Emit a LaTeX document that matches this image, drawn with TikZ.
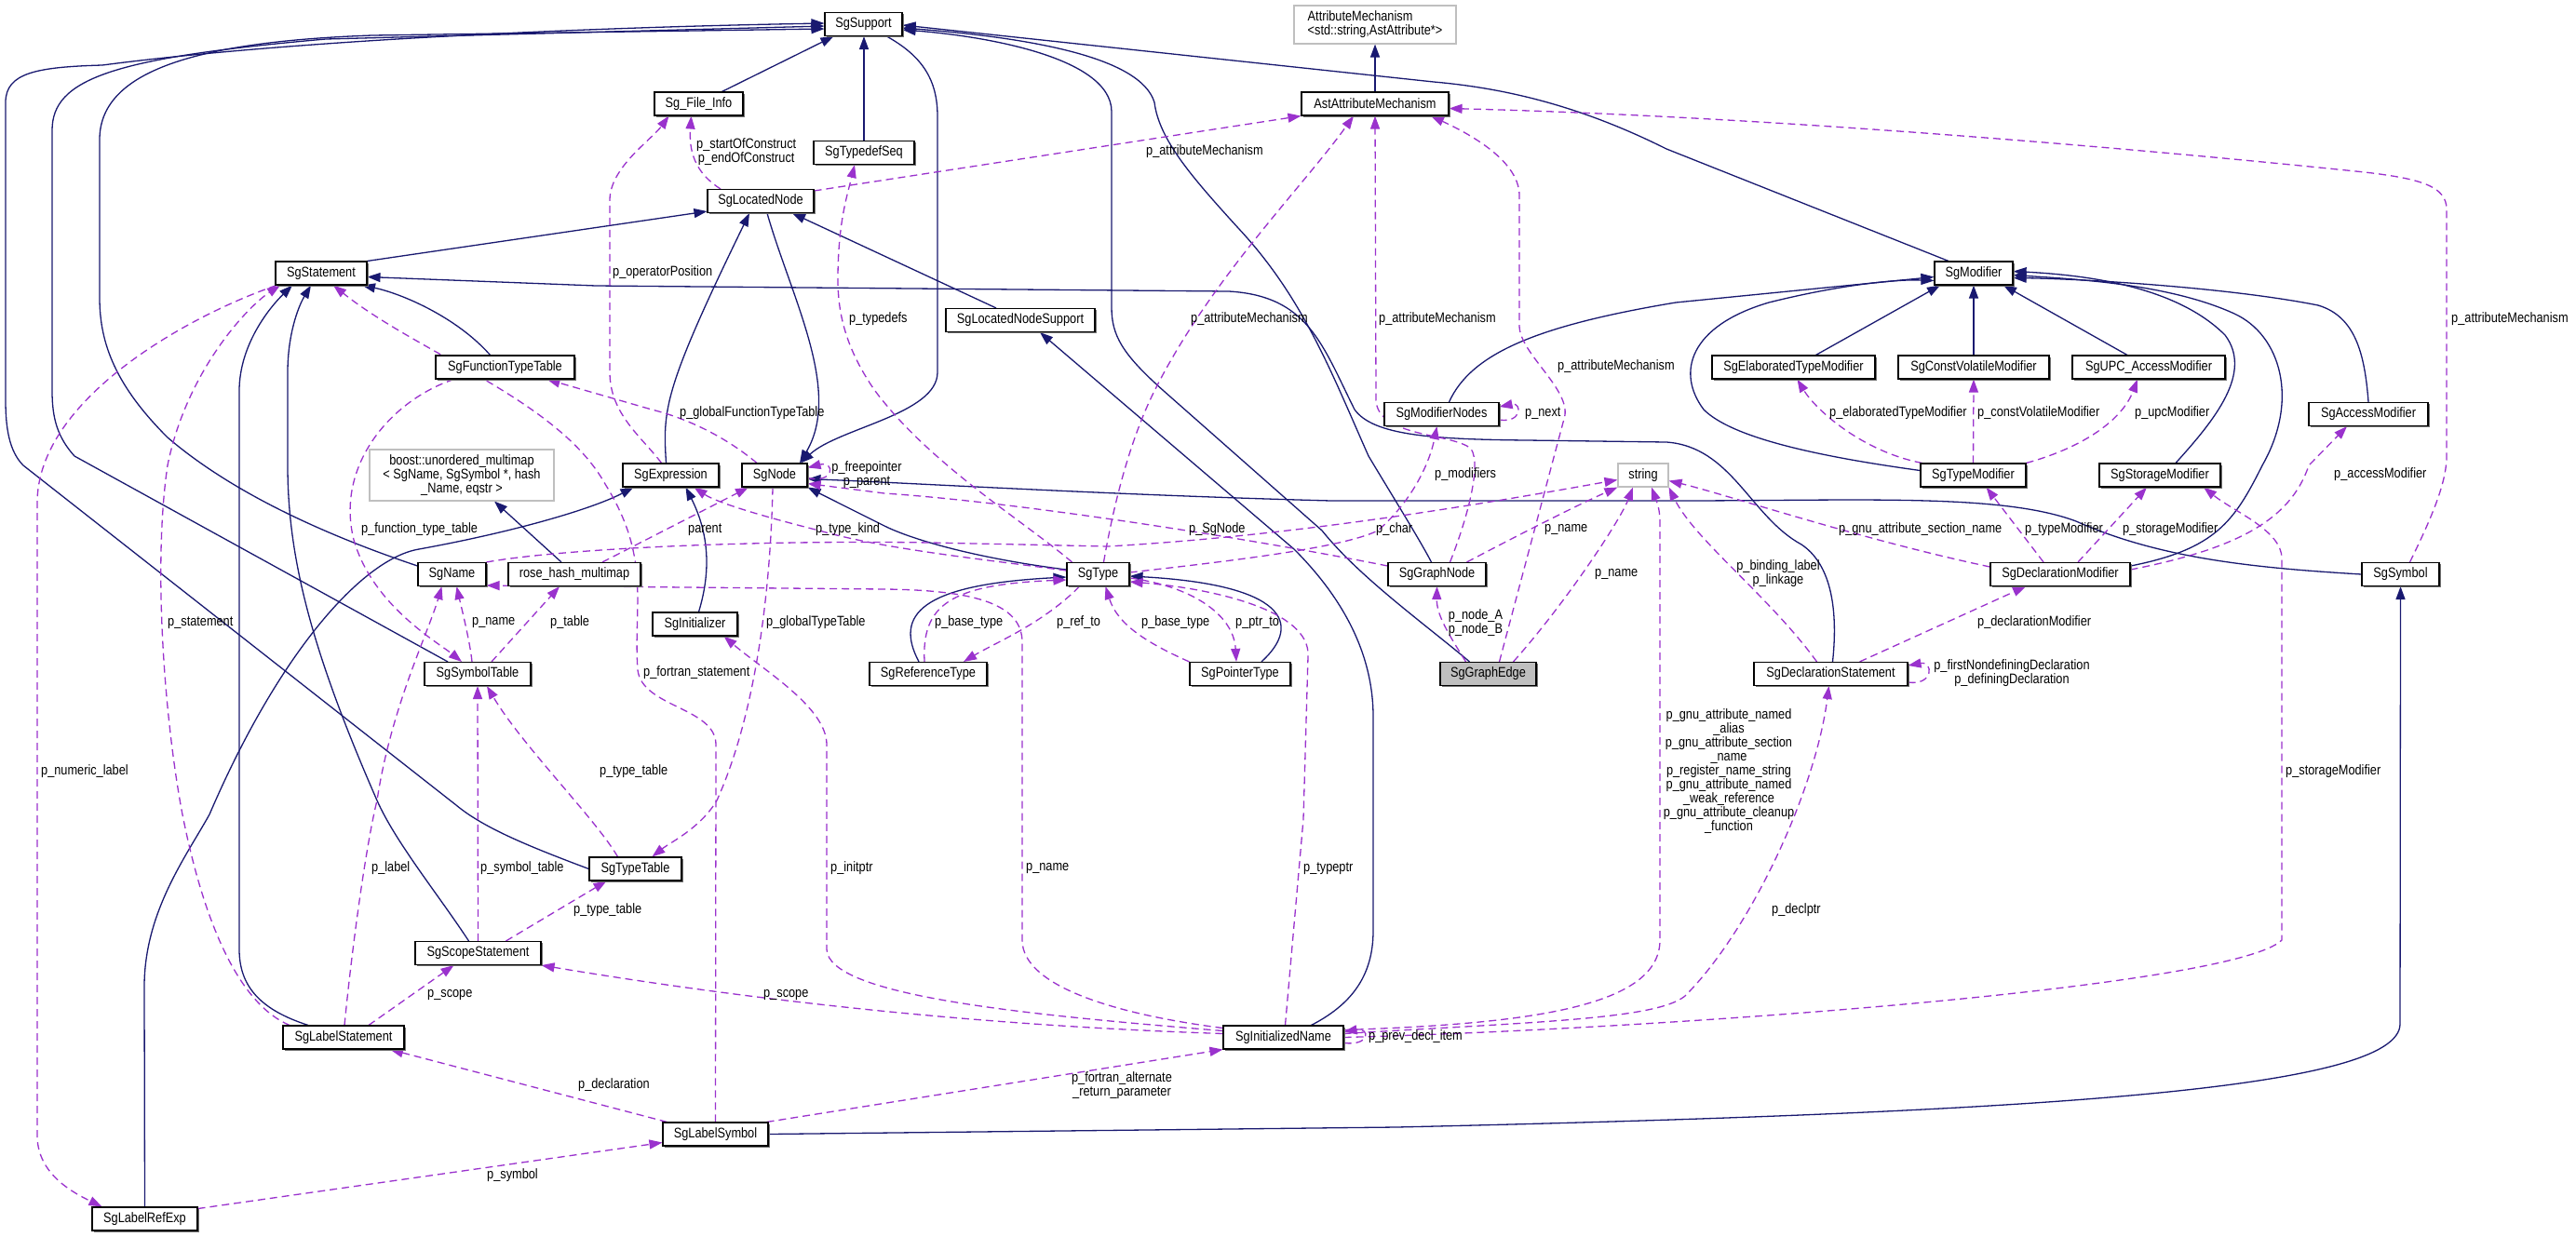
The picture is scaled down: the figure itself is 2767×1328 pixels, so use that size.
\documentclass[tikz,border=0pt]{standalone}
\usepackage{fontspec}
\newfontfamily\dxfam{Liberation Sans}[FakeStretch=0.85]
\newcommand\dxf{\dxfam\fontsize{15}{15}\selectfont}
\usetikzlibrary{arrows.meta,shadows}
\definecolor{navy}{HTML}{191970}
\definecolor{orch}{HTML}{9A32CD}
\definecolor{lgray}{HTML}{BFBFBF}
\pgfdeclarelayer{back}
\pgfdeclarelayer{bg}
\pgfsetlayers{back,bg,main}
\tikzset{
  cls/.style={draw=black, line width=1.1pt, fill=white, minimum height=25pt, inner sep=0pt, font=\dxf, align=center,
     drop shadow={shadow xshift=1.5pt, shadow yshift=-1.5pt, fill=black!55, opacity=1}},
  ext/.style={draw=lgray, line width=1.1pt, fill=white, inner sep=0pt, font=\dxf, align=center},
  inh/.style={draw=navy, line width=1.3pt, -{Triangle[length=14pt,width=10pt]}},
  use/.style={draw=orch, line width=1.3pt, dash pattern=on 8pt off 5pt, -{Triangle[length=14pt,width=10pt]}},
  lab/.style={inner sep=0pt, font=\dxf, align=center, text=black},
}
\begin{document}
\begin{tikzpicture}[x=1pt,y=-1pt]
\useasboundingbox (0,0) rectangle (2767,1328);
\begin{pgfonlayer}{back}
\fill[white] (0,0) rectangle (2767,1328);
\end{pgfonlayer}

% ---------------- nodes ----------------
\node[cls, minimum width=83pt] (sup) at (927.5,26) {SgSupport};
\node[ext, minimum width=174pt, minimum height=41pt, align=left] (am) at (1477,26.5) {AttributeMechanism\\<std::string,AstAttribute*>};
\node[cls, minimum width=158pt] (aam) at (1477,111.5) {AstAttributeMechanism};
\node[cls, minimum width=95pt] (fi) at (750.5,111.5) {Sg\_File\_Info};
\node[cls, minimum width=108pt] (tds) at (928,164) {SgTypedefSeq};
\node[cls, minimum width=114pt] (ln) at (817,216) {SgLocatedNode};
\node[cls, minimum width=98pt] (stmt) at (345,293.5) {SgStatement};
\node[cls, minimum width=84pt] (mod) at (2120,293.5) {SgModifier};
\node[cls, minimum width=160pt] (lns) at (1096,344) {SgLocatedNodeSupport};
\node[cls, minimum width=149pt] (ftt) at (542.5,394.5) {SgFunctionTypeTable};
\node[cls, minimum width=175pt] (etm) at (1926.5,394.5) {SgElaboratedTypeModifier};
\node[cls, minimum width=162pt] (cvm) at (2120,394.5) {SgConstVolatileModifier};
\node[cls, minimum width=164pt] (upc) at (2308,394.5) {SgUPC\_AccessModifier};
\node[cls, minimum width=123pt] (mn) at (1548.5,445) {SgModifierNodes};
\node[cls, minimum width=128pt] (acc) at (2544,445) {SgAccessModifier};
\node[ext, minimum width=198pt, minimum height=55pt] (boost) at (496,510.5) {boost::unordered\_multimap\\< SgName, SgSymbol *, hash\\\_Name, eqstr >};
\node[cls, minimum width=103pt] (expr) at (720.5,510.5) {SgExpression};
\node[cls, minimum width=70pt] (node) at (832,510.5) {SgNode};
\node[ext, minimum width=54pt, minimum height=25pt] (str) at (1765,510.5) {string};
\node[cls, minimum width=113pt] (tm) at (2119.5,510.5) {SgTypeModifier};
\node[cls, minimum width=130pt] (sm) at (2320,510.5) {SgStorageModifier};
\node[cls, minimum width=73pt] (name) at (485.5,617) {SgName};
\node[cls, minimum width=142pt] (rhm) at (617,617) {rose\_hash\_multimap};
\node[cls, minimum width=67pt] (type) at (1179.5,617) {SgType};
\node[cls, minimum width=105pt] (gn) at (1543.5,617) {SgGraphNode};
\node[cls, minimum width=150pt] (dm) at (2213,617) {SgDeclarationModifier};
\node[cls, minimum width=83pt] (sym) at (2578.5,617) {SgSymbol};
\node[cls, minimum width=91pt] (init) at (746.5,670.5) {SgInitializer};
\node[cls, minimum width=114pt] (stab) at (513,724) {SgSymbolTable};
\node[cls, minimum width=126pt] (rt) at (997,724) {SgReferenceType};
\node[cls, minimum width=108pt] (pt) at (1332,724) {SgPointerType};
\node[cls, minimum width=103pt, fill=lgray] (ge) at (1598.5,724) {SgGraphEdge};
\node[cls, minimum width=165pt] (ds) at (1966.5,724) {SgDeclarationStatement};
\node[cls, minimum width=99pt] (ttab) at (682.5,933.5) {SgTypeTable};
\node[cls, minimum width=135pt] (scope) at (513.5,1024) {SgScopeStatement};
\node[cls, minimum width=130pt] (lstmt) at (369,1114.5) {SgLabelStatement};
\node[cls, minimum width=129pt] (inm) at (1378.5,1114.5) {SgInitializedName};
\node[cls, minimum width=113pt] (lsy) at (768.5,1218.5) {SgLabelSymbol};
\node[cls, minimum width=113pt] (lre) at (155.5,1309.5) {SgLabelRefExp};

\begin{pgfonlayer}{bg}
% ---------------- inheritance ----------------
\draw[inh] ([xshift=25pt]fi.north) -- ([xshift=-32pt]sup.south);
\draw[inh] (tds.north) -- (tds.north |- sup.south);
\draw[inh] ([xshift=25pt]sup.south) .. controls (990,60) and (1007,85) .. (1007,125) -- (1007,400) .. controls (1007,445) and (900,460) .. ([xshift=28pt]node.north);
\draw[inh] ([xshift=7pt]ln.south) .. controls (850,320) and (905,420) .. ([xshift=27pt]node.north);
\draw[inh] (stmt.north east) -- ([yshift=2pt]ln.south west);
\draw[inh] ([xshift=-5pt]expr.north) .. controls (712,440) and (712,420) .. ([xshift=-12pt]ln.south);
\draw[inh] ([xshift=-26pt]lns.north) -- ([xshift=34pt]ln.south);
\draw[inh] ([xshift=-10pt]scope.north) .. controls (470,960) and (425,905) .. (405,860) .. controls (335,700) and (309,600) .. (309,500) -- (309,400) .. controls (309,360) and (320,330) .. ([xshift=-11pt]stmt.south);
\draw[inh] ([xshift=-38pt]lstmt.north) .. controls (280,1085) and (257,1060) .. (257,1020) -- (257,420) .. controls (257,370) and (290,330) .. ([xshift=-31pt]stmt.south);
\draw[inh] ([xshift=-16pt]ftt.north) .. controls (490,340) and (430,315) .. ([xshift=44pt]stmt.south);
\draw[inh] ([xshift=2pt]ds.north) .. controls (1975,650) and (1965,605) .. (1935,585) .. controls (1880,555) and (1860,480) .. (1790,475) -- (1640,473) .. controls (1540,472) and (1475,468) .. (1455,440) .. controls (1420,370) and (1405,318) .. (1320,313) -- (640,307) -- ([yshift=-4pt]stmt.east);
\draw[inh] ([yshift=9pt]name.west) .. controls (350,575) and (250,530) .. (180,470) .. controls (125,415) and (107,370) .. (107,320) -- (107,150) .. controls (107,80) and (200,45) .. (400,38) -- ([yshift=-5pt]sup.west);
\draw[inh] ([xshift=-32pt]stab.north) -- (80,490) .. controls (62,470) and (56,450) .. (56,420) -- (56,140) .. controls (56,85) and (120,62) .. (350,42) -- ([yshift=-2pt]sup.west);
\draw[inh] (ttab.west) .. controls (570,910) and (520,890) .. (490,865) -- (25,500) .. controls (10,485) and (6,460) .. (6,430) -- (6,110) .. controls (6,78) and (40,72) .. (110,70) .. controls (300,45) and (600,30) .. ([yshift=1pt]sup.west);
\draw[inh] (lre.north) -- (155,1060) .. controls (155,980) and (200,920) .. (225,875) .. controls (300,700) and (390,600) .. (450,590) .. controls (560,570) and (640,545) .. ([xshift=-40pt]expr.south);
\draw[inh] ([xshift=4pt]init.north) .. controls (765,610) and (760,570) .. ([xshift=16pt]expr.south);
\draw[inh] ([yshift=5pt]type.west) .. controls (1050,600) and (980,580) .. (950,565) .. controls (920,550) and (890,535) .. (node.south east);
\draw[inh] (sym.west) .. controls (2420,610) and (2320,600) .. (2230,560) .. controls (2150,530) and (2000,538) .. (1800,538) -- (1430,538) .. controls (1200,532) and (1000,520) .. ([yshift=-4pt]node.east);
\draw[inh] ([xshift=30pt]inm.north) .. controls (1450,1080) and (1475,1050) .. (1475,1000) -- (1475,770) .. controls (1475,700) and (1440,640) .. (1390,590) -- ([xshift=21pt]lns.south);
\draw[inh] ([xshift=-20pt]ge.north) .. controls (1530,670) and (1460,620) .. (1420,570) -- (1250,420) .. controls (1205,380) and (1194,360) .. (1194,330) -- (1194,120) .. controls (1194,60) and (1050,38) .. ([yshift=-6pt]sup.east);
\draw[inh] ([xshift=-6pt]gn.north) .. controls (1525,580) and (1500,540) .. (1470,490) .. controls (1430,400) and (1400,320) .. (1330,245) .. controls (1280,190) and (1245,150) .. (1240,110) .. controls (1225,60) and (1100,40) .. ([yshift=-4pt]sup.east);
\draw[inh] ([xshift=-27pt]mod.north) -- (1790,160) .. controls (1700,115) and (1620,95) .. (1540,88) -- ([yshift=-1pt]sup.east);
\draw[inh] ([xshift=8pt]mn.north) .. controls (1580,380) and (1650,350) .. (1800,325) -- ([yshift=-4pt]mod.west);
\draw[inh] ([xshift=24pt]etm.north) -- ([xshift=-36pt]mod.south);
\draw[inh] (cvm.north) -- (mod.south);
\draw[inh] ([xshift=-23pt]upc.north) -- ([xshift=32pt]mod.south);
\draw[inh] ([yshift=5pt]tm.west) .. controls (1950,490) and (1860,470) .. (1830,440) .. controls (1800,400) and (1815,350) .. (1900,325) .. controls (1980,305) and (2040,300) .. ([yshift=-8pt]mod.west);
\draw[inh] ([xshift=17pt]sm.north) .. controls (2380,450) and (2420,400) .. (2390,360) .. controls (2340,310) and (2250,296) .. ([yshift=2pt]mod.east);
\draw[inh] ([yshift=9pt]dm.east) .. controls (2380,590) and (2400,560) .. (2430,500) .. controls (2470,430) and (2450,360) .. (2400,337) .. controls (2330,305) and (2230,300) .. ([yshift=-2pt]mod.east);
\draw[inh] (acc.north) .. controls (2540,380) and (2530,340) .. (2490,328) .. controls (2400,310) and (2250,300) .. ([yshift=-5pt]mod.east);
\draw[inh] ([xshift=-10pt]rt.north) .. controls (960,660) and (990,628) .. ([yshift=-3pt]type.west);
\draw[inh] ([xshift=23pt]pt.north) .. controls (1400,670) and (1380,628) .. ([yshift=-2pt]type.east);
\draw[inh] (lsy.east) -- (1500,1211) .. controls (2200,1195) and (2578,1170) .. (2578,1100) -- (sym.south);
\draw[inh] ([xshift=-14pt]rhm.north) -- ([xshift=35pt]boost.south);
\draw[inh] (aam.north) -- (am.south);

% ---------------- usage ----------------
\draw[use] ([xshift=-43pt]ln.north) .. controls (745,185) and (740,160) .. ([xshift=-8pt]fi.south);
\draw[use] ([xshift=-10pt]expr.north) .. controls (690,470) and (655,445) .. (655,400) -- (655,215) .. controls (655,180) and (700,150) .. ([xshift=-32pt]fi.south);
\draw[use] ([yshift=11pt]ln.east) -- (aam.south west);
\draw[use] ([xshift=-28pt]type.north) .. controls (1100,560) and (1000,500) .. (940,420) .. controls (905,370) and (900,330) .. (900,300) .. controls (900,240) and (910,210) .. ([xshift=-10pt]tds.south);
\draw[use] ([xshift=6pt]type.north) .. controls (1200,520) and (1220,460) .. (1240,420) .. controls (1300,300) and (1400,200) .. ([xshift=-23pt]aam.south);
\draw[use] ([xshift=14pt]gn.north) .. controls (1575,560) and (1592,500) .. (1580,482) .. controls (1560,465) and (1480,470) .. (1478,430) -- (aam.south);
\draw[use] ([xshift=12pt]ge.north) -- (1680,450) .. controls (1690,420) and (1632,380) .. (1632,350) -- (1632,210) .. controls (1632,170) and (1570,140) .. ([xshift=60pt]aam.south);
\draw[use] ([xshift=10pt]sym.north) .. controls (2610,560) and (2628,520) .. (2628,490) -- (2628,225) .. controls (2628,200) and (2600,192) .. (2540,185) .. controls (2300,160) and (1900,125) .. ([yshift=-5pt]aam.east);
\draw[use] (name.north east) .. controls (600,590) and (800,580) .. (1000,583) -- (1190,587) .. controls (1400,575) and (1600,540) .. ([yshift=-5pt]str.west);
\draw[use] ([yshift=2pt]type.east) .. controls (1300,605) and (1440,590) .. (1480,570) .. controls (1515,540) and (1535,500) .. ([xshift=-5pt]mn.south);
\draw[use] ([yshift=4pt]type.west) .. controls (1050,600) and (950,590) .. (880,570) .. controls (820,555) and (770,540) .. ([xshift=25pt]expr.south);
\draw[use] ([yshift=9pt]gn.west) .. controls (1350,580) and (1100,540) .. (950,530) -- ([yshift=-9pt]node.east);
\draw[use] ([yshift=-3pt]node.east) .. controls (897,520) and (897,495) .. ([yshift=-5pt]node.north east);
\draw[use] ([xshift=-6pt]stab.north) .. controls (505,690) and (495,650) .. ([xshift=5pt]name.south);
\draw[use] ([xshift=15pt]stab.north) -- ([xshift=-16pt]rhm.south);
\draw[use] ([xshift=1pt]lstmt.north) .. controls (380,1000) and (395,900) .. (405,860) .. controls (420,760) and (460,680) .. ([xshift=-11pt]name.south);
\draw[use] ([xshift=30pt]rhm.north) -- ([xshift=-28pt]node.south);
\draw[use] ([xshift=-55pt]ftt.south) .. controls (420,430) and (360,500) .. (380,580) .. controls (400,650) and (470,690) .. ([xshift=-17pt]stab.north);
\draw[use] ([xshift=-19pt]node.north) .. controls (780,470) and (740,450) .. (700,440) -- ([xshift=45pt]ftt.south);
\draw[use] ([xshift=-2pt]node.south) .. controls (828,620) and (815,760) .. (770,860) .. controls (752,890) and (720,905) .. ([xshift=18pt]ttab.north);
\draw[use] ([xshift=-19pt]ttab.north) .. controls (640,880) and (560,800) .. ([xshift=10pt]stab.south);
\draw[use] (scope.north) -- (stab.south);
\draw[use] ([xshift=30pt]scope.north) -- ([xshift=-31pt]ttab.south);
\draw[use] ([xshift=27pt]lstmt.north) -- ([xshift=-26pt]scope.south);
\draw[use] ([yshift=4pt]inm.west) .. controls (1150,1105) and (900,1090) .. (scope.south east);
\draw[use] ([xshift=-52pt]lsy.north) -- ([xshift=50pt]lstmt.south);
\draw[use] ([yshift=11pt]lre.east) -- ([yshift=-9pt]lsy.west);
\draw[use] (lsy.north) -- (769,800) .. controls (769,760) and (690,760) .. (685,720) .. controls (680,650) and (700,600) .. (650,520) .. controls (600,430) and (450,380) .. ([xshift=13pt]stmt.south);
\draw[use] ([xshift=-2pt]lsy.north east) -- (inm.south west);
\draw[use] ([yshift=7pt]inm.west) .. controls (1100,1090) and (890,1070) .. (888,1020) -- (888,800) .. controls (888,760) and (820,720) .. ([xshift=31pt]init.south);
\draw[use] ([yshift=10pt]inm.west) .. controls (1200,1090) and (1098,1060) .. (1098,1010) -- (1098,690) .. controls (1098,650) and (1050,634) .. (950,633) -- ([yshift=-12pt]name.east);
\draw[use] ([xshift=2pt]inm.north) -- (1400,880) -- (1405,705) .. controls (1408,655) and (1300,632) .. ([yshift=-8pt]type.east);
\draw[use] ([yshift=-6pt]inm.east) .. controls (1472,1124) and (1472,1104) .. ([yshift=6pt]inm.east);
\draw[use] ([yshift=8pt]inm.east) .. controls (1650,1100) and (1783,1080) .. (1783,1010) -- (1783,560) .. controls (1783,545) and (1778,535) .. ([xshift=9pt]str.south);
\draw[use] ([yshift=4pt]inm.east) .. controls (1650,1098) and (1780,1095) .. (1810,1070) .. controls (1880,1000) and (1950,850) .. ([xshift=-2pt]ds.south);
\draw[use] (inm.east) .. controls (1800,1105) and (2400,1060) .. (2451,1010) -- (2451,600) .. controls (2451,570) and (2400,550) .. ([xshift=47pt]sm.south);
\draw[use] ([xshift=31pt]ds.north) -- ([xshift=-37pt]dm.south);
\draw[use] ([yshift=-9pt]ds.east) .. controls (2077,737) and (2077,710) .. ([yshift=9pt]ds.east);
\draw[use] ([xshift=-15pt]ds.north) .. controls (1900,640) and (1820,580) .. (str.south east);
\draw[use] ([yshift=8pt]dm.west) .. controls (2000,580) and (1850,530) .. ([yshift=-6pt]str.east);
\draw[use] ([xshift=-18pt]dm.north) -- ([xshift=14pt]tm.south);
\draw[use] ([xshift=19pt]dm.north) -- ([xshift=-14pt]sm.south);
\draw[use] ([yshift=5pt]dm.east) .. controls (2400,590) and (2460,560) .. (2480,500) -- ([xshift=-23pt]acc.south);
\draw[use] ([xshift=-55pt]tm.north) .. controls (2000,485) and (1950,440) .. ([xshift=4pt]etm.south);
\draw[use] (tm.north) -- (cvm.south);
\draw[use] (tm.north east) .. controls (2240,480) and (2280,450) .. ([xshift=-12pt]upc.south);
\draw[use] ([yshift=-6pt]mn.east) .. controls (1635,455) and (1635,432) .. ([yshift=8pt]mn.east);
\draw[use] ([xshift=-20pt]type.south) .. controls (1120,670) and (1070,690) .. ([xshift=38pt]rt.north);
\draw[use] ([xshift=-4pt]rt.north) .. controls (990,650) and (1020,628) .. ([yshift=-6pt]type.west);
\draw[use] (pt.north west) .. controls (1230,690) and (1200,670) .. ([xshift=8pt]type.south);
\draw[use] ([yshift=-4pt]type.east) .. controls (1280,630) and (1325,660) .. ([xshift=-4pt]pt.north);
\draw[use] ([xshift=-24pt]ge.north) .. controls (1555,680) and (1543,660) .. (gn.south);
\draw[use] ([xshift=27pt]ge.north) .. controls (1680,650) and (1740,560) .. ([xshift=-11pt]str.south);
\draw[use] ([xshift=32pt]gn.north) .. controls (1640,570) and (1700,540) .. (str.south west);
\draw[use] ([xshift=-48pt]stmt.south) .. controls (200,340) and (40,430) .. (40,540) -- (40,1220) .. controls (40,1262) and (80,1282) .. ([xshift=-46pt]lre.north);
\draw[use] ([xshift=-58pt]lstmt.north) .. controls (260,1080) and (220,1000) .. (195,870) .. controls (175,760) and (165,600) .. (180,500) .. controls (200,400) and (265,330) .. ([xshift=-44pt]stmt.south);
\end{pgfonlayer}

% ---------------- labels ----------------
\node[lab, anchor=west] (l1) at (748,163.5) {p\_startOfConstruct\\p\_endOfConstruct};
\node[lab, anchor=west] (l2) at (658,293) {p\_operatorPosition};
\node[lab, anchor=west] (l3) at (1231,163) {p\_attributeMechanism};
\node[lab, anchor=west] (l4) at (912,343) {p\_typedefs};
\node[lab, anchor=west] (l5) at (1279,343) {p\_attributeMechanism};
\node[lab, anchor=west] (l6) at (1481,343) {p\_attributeMechanism};
\node[lab, anchor=west] (l7) at (1673,394) {p\_attributeMechanism};
\node[lab, anchor=west] (l8) at (2633,343) {p\_attributeMechanism};
\node[lab, anchor=west] (l9) at (1638,444) {p\_next};
\node[lab, anchor=west] (l10) at (1965,444) {p\_elaboratedTypeModifier};
\node[lab, anchor=west] (l11) at (2124,444) {p\_constVolatileModifier};
\node[lab, anchor=west] (l12) at (2293,444) {p\_upcModifier};
\node[lab, anchor=west] (l13) at (730,444) {p\_globalFunctionTypeTable};
\node[lab] (l14) at (931,510) {p\_freepointer\\p\_parent};
\node[lab, anchor=west] (l15) at (1541,510) {p\_modifiers};
\node[lab, anchor=west] (l16) at (2507,510) {p\_accessModifier};
\node[lab, anchor=west] (l17) at (388,569) {p\_function\_type\_table};
\node[lab, anchor=west] (l18) at (739,569) {parent};
\node[lab, anchor=west] (l19) at (876,569) {p\_type\_kind};
\node[lab, anchor=west] (l20) at (1277,569) {p\_SgNode};
\node[lab, anchor=west] (l21) at (1478,569) {p\_char};
\node[lab, anchor=west] (l22) at (1659,569) {p\_name};
\node[lab, anchor=west] (l23) at (1975,569) {p\_gnu\_attribute\_section\_name};
\node[lab, anchor=west] (l24) at (2175,569) {p\_typeModifier};
\node[lab, anchor=west] (l25) at (2280,569) {p\_storageModifier};
\node[lab] (l26) at (1910,616) {p\_binding\_label\\p\_linkage};
\node[lab, anchor=west] (l27) at (1713,617) {p\_name};
\node[lab] (l28) at (1585,669) {p\_node\_A\\p\_node\_B};
\node[lab, anchor=west] (l29) at (180,669) {p\_statement};
\node[lab, anchor=west] (l30) at (507,669) {p\_name};
\node[lab, anchor=west] (l31) at (591,669) {p\_table};
\node[lab, anchor=west] (l32) at (823,669) {p\_globalTypeTable};
\node[lab, anchor=west] (l33) at (1004,669) {p\_base\_type};
\node[lab, anchor=west] (l34) at (1135,669) {p\_ref\_to};
\node[lab, anchor=west] (l35) at (1226,669) {p\_base\_type};
\node[lab, anchor=west] (l36) at (1327,669) {p\_ptr\_to};
\node[lab, anchor=west] (l37) at (2124,669) {p\_declarationModifier};
\node[lab] (l38) at (2161,723.5) {p\_firstNondefiningDeclaration\\p\_definingDeclaration};
\node[lab, anchor=west] (l39) at (691,723) {p\_fortran\_statement};
\node[lab] (l40) at (1857,829) {p\_gnu\_attribute\_named\\\_alias\\p\_gnu\_attribute\_section\\\_name\\p\_register\_name\_string\\p\_gnu\_attribute\_named\\\_weak\_reference\\p\_gnu\_attribute\_cleanup\\\_function};
\node[lab, anchor=west] (l41) at (44,829) {p\_numeric\_label};
\node[lab, anchor=west] (l42) at (644,829) {p\_type\_table};
\node[lab, anchor=west] (l43) at (2455,829) {p\_storageModifier};
\node[lab, anchor=west] (l44) at (399,933) {p\_label};
\node[lab, anchor=west] (l45) at (516,933) {p\_symbol\_table};
\node[lab, anchor=west] (l46) at (892,933) {p\_initptr};
\node[lab, anchor=west] (l47) at (1102,933) {p\_name};
\node[lab, anchor=west] (l48) at (1400,933) {p\_typeptr};
\node[lab, anchor=west] (l49) at (616,978) {p\_type\_table};
\node[lab, anchor=west] (l50) at (1903,978) {p\_declptr};
\node[lab, anchor=west] (l51) at (459,1069) {p\_scope};
\node[lab, anchor=west] (l52) at (820,1069) {p\_scope};
\node[lab, anchor=west] (l53) at (1470,1114) {p\_prev\_decl\_item};
\node[lab, anchor=west] (l54) at (621,1166) {p\_declaration};
\node[lab] (l55) at (1205,1166) {p\_fortran\_alternate\\\_return\_parameter};
\node[lab, anchor=west] (l56) at (523,1263) {p\_symbol};
\end{tikzpicture}
\end{document}
